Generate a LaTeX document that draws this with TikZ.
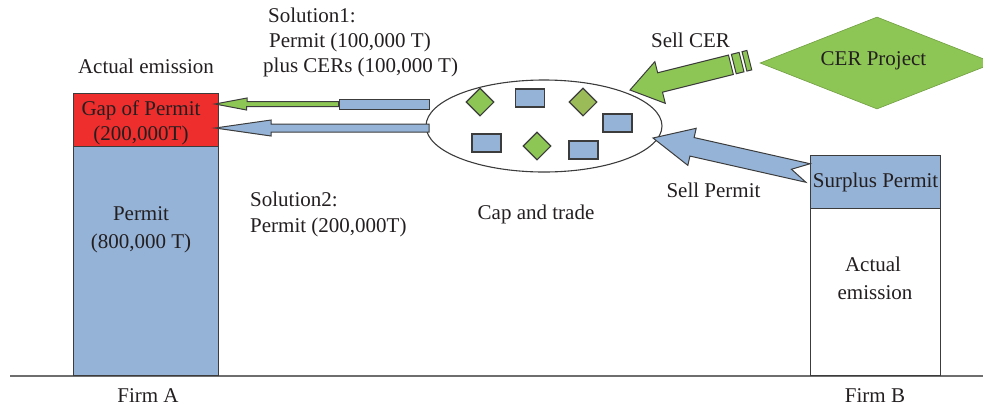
\documentclass[tikz,border=0pt]{standalone}
\usepackage{fontspec}
\setmainfont{Liberation Serif}
\usetikzlibrary{shapes.geometric,calc}

\definecolor{ink}{RGB}{35,31,32}
\definecolor{edge}{RGB}{60,60,60}
\definecolor{groundgray}{RGB}{110,110,110}
\definecolor{permitblue}{RGB}{149,179,215}
\definecolor{gapred}{RGB}{238,45,45}
\definecolor{cergreen}{RGB}{141,198,84}
\definecolor{olivegreen}{RGB}{155,187,89}

% point on a block arrow: #1 name, #2 tip, #3 aim, #4 distance along the axis, #5 offset across it
\newcommand{\axpt}[5]{\coordinate (#1) at ($($(#2)!#4!(#3)$)!#5!90:(#3)$);}

\begin{document}
\begin{tikzpicture}[x=1pt,y=-1pt,
  every node/.style={font=\fontsize{21}{25}\selectfont, text=ink},
  box/.style={draw=edge, line width=1.2pt, inner sep=0pt},
  outline/.style={draw=edge, line width=1pt, line join=miter},
  txt/.style={inner sep=0pt, anchor=base},
  token/.style={draw=edge, line width=1.1pt, fill=permitblue, minimum width=29pt, minimum height=18pt, inner sep=0pt},
  gem/.style={diamond, draw=edge, line width=1.1pt, fill=cergreen, minimum width=28pt, minimum height=28pt, inner sep=0pt, aspect=1}]

\useasboundingbox (0,0) rectangle (983,408);

% ground line
\coordinate (gl) at (10,376);
\coordinate (gr) at (983,376);
\draw[groundgray, line width=1.3pt] (gl) -- (gr);

% Firm A
\node[box, fill=gapred, minimum width=145pt, minimum height=53pt, anchor=north west] (gap) at (73,93) {};
\node[box, fill=permitblue, minimum width=145pt, minimum height=229pt, anchor=north west] (permA) at (73,146) {};
\node[txt] (gaptxt) at (141,115) {Gap of Permit};
\node[txt] (gapamt) at (141,140) {(200,000T)};
\node[txt] (permtxt) at (141,220) {Permit};
\node[txt] (permamt) at (141,248) {(800,000 T)};
\node[txt] (actA) at (146,73) {Actual emission};
\node[txt] (firmA) at (148,402) {Firm A};

% Firm B
\node[box, fill=permitblue, minimum width=130pt, minimum height=53pt, anchor=north west] (surplus) at (810,155) {Surplus Permit};
\node[box, fill=white, minimum width=130pt, minimum height=167pt, anchor=north west] (emitB) at (810,208) {};
\node[txt] (actB1) at (873,271) {Actual};
\node[txt] (actB2) at (875,299) {emission};
\node[txt] (firmB) at (875,402) {Firm B};

% the market
\node[ellipse, draw=edge, line width=1.1pt, minimum width=236pt, minimum height=92pt, inner sep=0pt] (market) at (544,126) {};
\node[gem] (g1) at (480,102) {};
\node[token] (t1) at (530,98) {};
\node[gem, fill=olivegreen] (g2) at (583,102) {};
\node[token] (t2) at (617.5,123) {};
\node[token] (t3) at (486.5,143) {};
\node[gem] (g3) at (537,146) {};
\node[token] (t4) at (583.5,150) {};
\node[txt] (captxt) at (536,219) {Cap and trade};

% CER project
\node[diamond, draw=cergreen!80!black, line width=0.6pt, fill=cergreen, aspect=2.54, minimum width=234pt, minimum height=92pt, inner sep=0pt] (cer) at (877,63) {};
\node[txt] (certxt) at (873.5,65) {CER Project};

% solution 1: permits plus CERs
\coordinate (s1tip) at (215,104);
\node[box, line width=1pt, fill=permitblue, minimum width=90pt, minimum height=10pt] (s1tail) at (384,104) {};
\filldraw[outline, fill=cergreen] (s1tip) -- ++(32,-6) -- ++(0,3.5) -- (s1tail.west |- 0,101.5) -- (s1tail.west |- 0,106.5) -- ++(-92,0) -- ++(0,3.5) -- cycle;

% solution 2: permits only
\coordinate (s2tip) at (215,128);
\coordinate (s2end) at (429,128);
\filldraw[outline, fill=permitblue] (s2tip) -- ++(56,-8) -- ++(0,4) -- ($(s2end)+(0,-4)$) -- ($(s2end)+(0,4)$) -- ++(-158,0) -- ++(0,4) -- cycle;

% sell CER: striped block arrow
\coordinate (cT) at (630,90);
\coordinate (cA) at (760,57.5);
\axpt{c1}{cT}{cA}{31pt}{21.5pt}
\axpt{c2}{cT}{cA}{31pt}{10pt}
\axpt{c3}{cT}{cA}{104pt}{10pt}
\axpt{c4}{cT}{cA}{104pt}{-10pt}
\axpt{c5}{cT}{cA}{31pt}{-10pt}
\axpt{c6}{cT}{cA}{31pt}{-21.5pt}
\filldraw[outline, fill=cergreen] (cT) -- (c1) -- (c2) -- (c3) -- (c4) -- (c5) -- (c6) -- cycle;
\axpt{d1}{cT}{cA}{107pt}{10pt}
\axpt{d2}{cT}{cA}{115pt}{10pt}
\axpt{d3}{cT}{cA}{115pt}{-10pt}
\axpt{d4}{cT}{cA}{107pt}{-10pt}
\filldraw[outline, fill=cergreen] (d1) -- (d2) -- (d3) -- (d4) -- cycle;
\axpt{e1}{cT}{cA}{118pt}{10pt}
\axpt{e2}{cT}{cA}{123pt}{10pt}
\axpt{e3}{cT}{cA}{123pt}{-10pt}
\axpt{e4}{cT}{cA}{118pt}{-10pt}
\filldraw[outline, fill=cergreen] (e1) -- (e2) -- (e3) -- (e4) -- cycle;

% sell permit: notched block arrow
\coordinate (pT) at (653,138);
\coordinate (pA) at (808,173);
\axpt{p1}{pT}{pA}{40pt}{19pt}
\axpt{p2}{pT}{pA}{40pt}{9.5pt}
\coordinate (p3) at ($(pA)!9.5pt!-90:(pT)$);
\coordinate (p4) at ($(pA)!17pt!(pT)$);
\coordinate (p5) at ($(pA)!-9.5pt!-90:(pT)$);
\axpt{p6}{pT}{pA}{40pt}{-9.5pt}
\axpt{p7}{pT}{pA}{40pt}{-19pt}
\filldraw[outline, fill=permitblue] (pT) -- (p1) -- (p2) -- (p3) -- (p4) -- (p5) -- (p6) -- (p7) -- cycle;

% labels (a multi-line node sits on the baseline of its last line)
\node[txt, anchor=base west, align=left] (sol1) at (263,72) {\hspace*{5pt}Solution1:\\\hspace*{6pt}Permit (100,000 T)\\plus CERs (100,000 T)};
\node[txt, anchor=base west, align=left, font=\fontsize{21}{25.5}\selectfont] (sol2) at (250,232) {Solution2:\\Permit (200,000T)};
\node[txt] (sellcer) at (690.5,47) {Sell CER};
\node[txt] (sellperm) at (713.5,197) {Sell Permit};
\end{tikzpicture}
\end{document}
